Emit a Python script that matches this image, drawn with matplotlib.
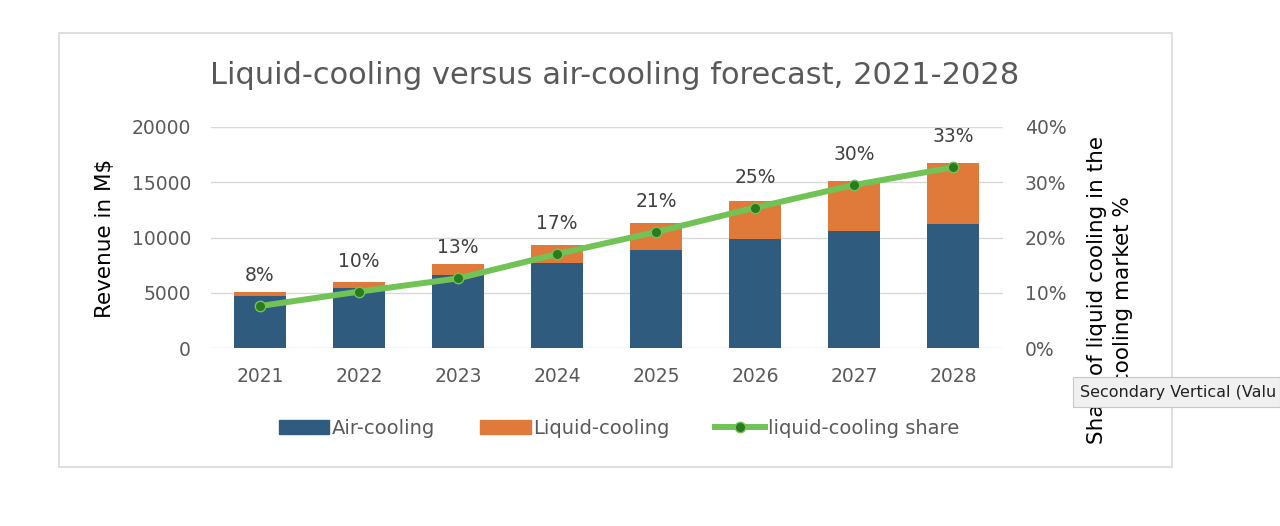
import matplotlib.pyplot as plt
from matplotlib.patches import Patch, Rectangle
from matplotlib.lines import Line2D
from matplotlib.ticker import FuncFormatter

years = ['2021', '2022', '2023', '2024', '2025', '2026', '2027', '2028']
air_cooling = [4700, 5400, 6600, 7700, 8900, 9900, 10600, 11200]
liquid_cooling = [400, 600, 1000, 1600, 2400, 3400, 4500, 5500]
share = [7.6, 10.2, 12.6, 17.0, 21.0, 25.4, 29.5, 32.7]
share_labels = ['8%', '10%', '13%', '17%', '21%', '25%', '30%', '33%']

blue = '#2F5C7E'
orange = '#DF7A3A'
green = '#72C356'
dark_green = '#2A7A1E'
grey_text = '#595959'

plt.rcParams['font.family'] = ['DejaVu Sans']

fig = plt.figure(figsize=(12.8, 5.26), dpi=100)
ax = fig.add_axes([210.5 / 1280, 178 / 526, 792 / 1280, 221 / 526])
x = range(len(years))

ax.bar(x, air_cooling, width=0.53, color=blue, zorder=2)
ax.bar(x, liquid_cooling, width=0.53, bottom=air_cooling, color=orange, zorder=2)
ax.set_xlim(-0.5, len(years) - 0.5)
ax.set_ylim(0, 20000)
ax.set_yticks([0, 5000, 10000, 15000, 20000])
ax.set_xticks(list(x))
ax.set_xticklabels(years)
ax.grid(axis='y', color='#D9D9D9', lw=1, zorder=0)
ax.tick_params(axis='y', length=0, pad=14, labelsize=13.5, labelcolor=grey_text)
ax.tick_params(axis='x', length=0, pad=14, labelsize=13.5, labelcolor=grey_text)
for s in ax.spines.values():
    s.set_visible(False)

ax2 = ax.twinx()
ax2.plot(x, share, color=green, lw=4.3, marker='o', markersize=7.5,
         markerfacecolor=dark_green, markeredgecolor=green, markeredgewidth=1, zorder=3)
ax2.set_ylim(0, 40)
ax2.set_yticks([0, 10, 20, 30, 40])
ax2.yaxis.set_major_formatter(FuncFormatter(lambda v, p: f'{v:.0f}%'))
ax2.tick_params(axis='y', length=0, pad=16, labelsize=13.5, labelcolor=grey_text)
for s in ax2.spines.values():
    s.set_visible(False)
for i, (v, lab) in enumerate(zip(share, share_labels)):
    ax2.annotate(lab, (i, v), xytext=(0, 22), textcoords='offset points',
                 ha='center', va='center', fontsize=13.5, color='#404040')

fig.text(615 / 1280, 1 - 75 / 526, 'Liquid-cooling versus air-cooling forecast, 2021-2028',
         ha='center', va='center', fontsize=22, color=grey_text)
fig.text(105 / 1280, 1 - 238 / 526, 'Revenue in M$', rotation=90,
         ha='center', va='center', fontsize=15.5, color='black')
fig.text(1110 / 1280, 1 - 290 / 526, 'Share of liquid cooling in the\ncooling market %',
         rotation=90, ha='center', va='center', multialignment='center',
         fontsize=15.5, color='black', linespacing=1.4)

handles = [Patch(color=blue), Patch(color=orange),
           Line2D([], [], color=green, lw=4.3, marker='o', markersize=7.5,
                  markerfacecolor=dark_green, markeredgecolor=green)]
fig.legend(handles, ['Air-cooling', 'Liquid-cooling', 'liquid-cooling share'],
           loc='center', bbox_to_anchor=(619 / 1280, 1 - 428 / 526), ncol=3,
           frameon=False, fontsize=14, labelcolor=grey_text, handlelength=2.6,
           handleheight=0.7, handletextpad=0.15, columnspacing=2.3)

# chart frame
fig.patches.append(Rectangle((59 / 1280, 1 - 467 / 526), (1172 - 59) / 1280, (467 - 33) / 526,
                             transform=fig.transFigure, fill=False, edgecolor='#D9D9D9', lw=1.2))

# tooltip left over from the screenshot
fig.patches.append(Rectangle((1073 / 1280, 1 - 407 / 526), 207 / 1280, 30 / 526,
                             transform=fig.transFigure, facecolor='#F0F0F0',
                             edgecolor='#C8C8C8', lw=0.8, zorder=5))
fig.text(1080 / 1280, 1 - 393 / 526, 'Secondary Vertical (Valu', ha='left', va='center',
         fontsize=11.5, color='#222222', zorder=6)

fig.savefig('out.png', dpi=100)
